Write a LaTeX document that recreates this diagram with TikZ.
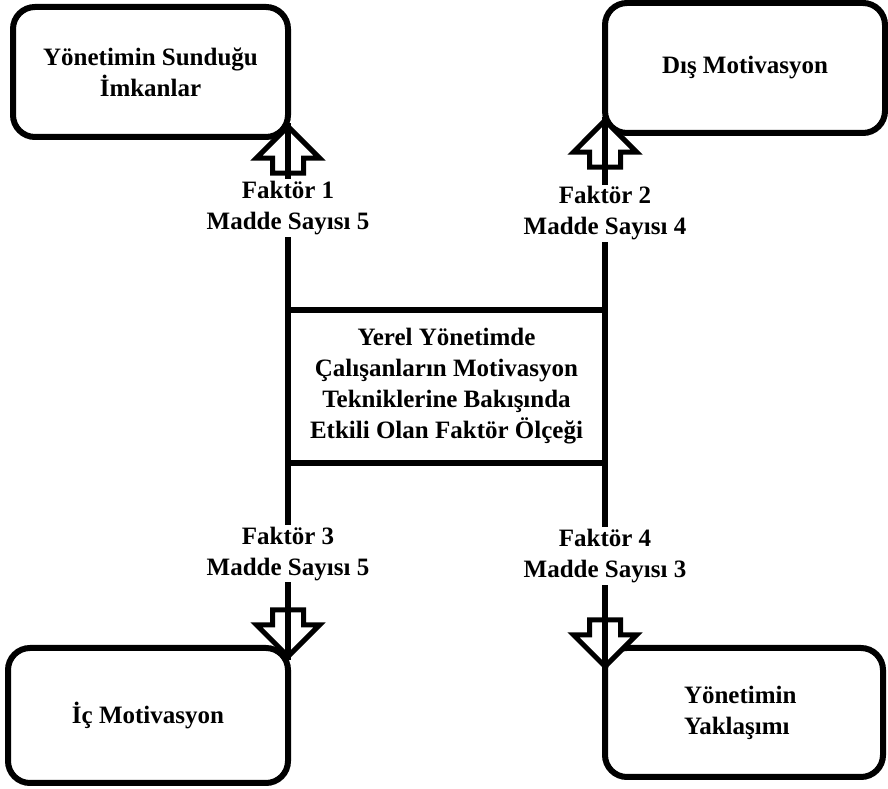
\documentclass[tikz,border=0pt]{standalone}
\usepackage{fontspec}
\setmainfont{Liberation Serif}
\usetikzlibrary{shapes.arrows}
\tikzset{
  factor box/.style={draw, line width=6pt, outer sep=0pt, rounded corners=22pt, align=center, font=\bfseries\fontsize{25}{31}\selectfont},
  scale box/.style={draw, line width=6pt, outer sep=0pt, align=center, font=\bfseries\fontsize{25}{31}\selectfont, minimum width=317pt, minimum height=153pt},
  factor label/.style={fill=white, align=center, inner sep=2pt, font=\bfseries\fontsize{25}{31}\selectfont},
  factor arrow/.style={single arrow, draw, fill=white, line width=5pt, single arrow head extend=16pt, inner sep=13pt, minimum width=0pt, minimum height=44pt, anchor=tip},
  factor up arrow/.style={factor arrow, rotate=90},
  factor down arrow/.style={factor arrow, rotate=-90},
  link/.style={line width=6pt},
}
\begin{document}
\begin{tikzpicture}[x=1pt,y=1pt]
\useasboundingbox (0,0) rectangle (888,789);
%the nodes
\node [factor box, minimum width=275pt, minimum height=130pt] (mA) at (150.5,717) {Yönetimin Sunduğu\\İmkanlar};
\node [factor box, minimum width=280pt, minimum height=130pt] (mB) at (745,721) {Dış Motivasyon};
\node [scale box] (mS) at (446.5,402.5) {Yerel Yönetimde\\Çalışanların Motivasyon\\Tekniklerine Bakışında\\Etkili Olan Faktör Ölçeği};
\node [factor box, minimum width=280pt, minimum height=135pt] (mC) at (148,73.5) {İç Motivasyon};
\node [factor box, minimum width=278pt, minimum height=129pt, align=left, text width=120pt] (mD) at (744,76.5) {Yönetimin\\Yaklaşımı};
%the hollow arrows
\node [factor up arrow] (aA) at (288,666) {};
\node [factor up arrow] (aB) at (605,672) {};
\node [factor down arrow] (aC) at (288,129) {};
\node [factor down arrow] (aD) at (605,119) {};
%drawings of vectors
\draw [link] (mS.north west) -- node[factor label, pos=0.545] {Faktör 1\\Madde Sayısı 5} (aA.tip);
\draw [link] (mS.north east) -- node[factor label, pos=0.5] {Faktör 2\\Madde Sayısı 4} (aB.tip);
\draw [link] (mS.south west) -- node[factor label, pos=0.46] {Faktör 3\\Madde Sayısı 5} (aC.tip);
\draw [link] (mS.south east) -- node[factor label, pos=0.45] {Faktör 4\\Madde Sayısı 3} (aD.tip);
\end{tikzpicture}
\end{document}
